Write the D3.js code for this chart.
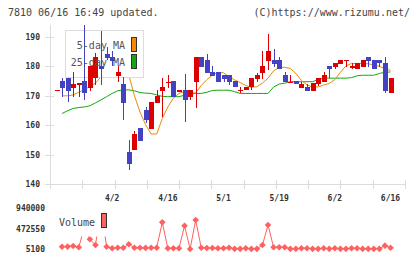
<!DOCTYPE html>
<html>
<head>
<meta charset="utf-8">
<script src="https://cdn.jsdelivr.net/npm/d3@7"></script>
<style>
  body { margin: 0; background: #fff; }
  text { font-family: "DejaVu Sans Mono", monospace; }
</style>
</head>
<body>
<div id="chart"></div>
<script>
// trading days, 3/18 .. 6/16
const dates = ['3/18','3/19','3/21','3/24','3/25','3/26','3/27','3/28','3/31',
  '4/1','4/2','4/3','4/4','4/7','4/8','4/9','4/10','4/11','4/14','4/15','4/16','4/17','4/18',
  '4/21','4/22','4/23','4/24','4/25','4/28','4/30',
  '5/1','5/2','5/7','5/8','5/9','5/12','5/13','5/14','5/15','5/16','5/19','5/20','5/21',
  '5/22','5/23','5/26','5/27','5/28','5/29','5/30',
  '6/2','6/3','6/4','6/5','6/6','6/9','6/10','6/11','6/12','6/13','6/16'];

const opens = [171.9, 175, 176, 172.8, 174.1, 175, 172.8, 176, 180.2, 184.3,
  183.2, 176.8, 174, 151, 151.6, 158.9, 165.2, 158.7, 167.7, 171.7,
  174.5, 175, 171.2, 172, 169.7, 174.8, 183.3, 182.2, 178.2, 178.2,
  177, 177, 175, 172, 172, 172.9, 175.7, 177.9, 182, 182.2,
  182.2, 177, 174.7, 175, 172.8, 173.1, 171.7, 174, 174.8, 180.1,
  179.9, 180.8, 182.1, 180, 179, 179.9, 183.2, 182.2, 182.2, 181.2,
  170.8];
const closes = [172, 172.7, 171.7, 174, 174.2, 170.8, 180.2, 183.3, 179, 183,
  181.8, 178.2, 167.7, 146.8, 156.9, 154.7, 161.8, 168, 169.9, 172.9,
  174.8, 169.7, 172, 168.6, 172, 183.3, 179.9, 177.9, 176.8, 174.8,
  175.7, 174.8, 172.9, 172.1, 173.1, 176, 177, 180.1, 185.2, 180.8,
  179, 174.6, 174.8, 173.9, 174, 171.7, 174.2, 176, 177, 179,
  181.2, 182.2, 182.2, 180.1, 181.2, 182.2, 182, 179, 181, 171.7,
  176];
const highs = [172.1, 176, 176, 178, 174.2, 194, 180.2, 184.5, 192, 186.7,
  185.2, 180, 176.5, 155, 158.1, 158.9, 166.3, 168, 172, 176.2,
  177, 175, 172, 177.3, 172, 183.3, 183.3, 184.2, 180.2, 178.2,
  177, 177, 175, 173.1, 173.1, 176, 177.6, 185.3, 191, 185.9,
  183.1, 178, 177, 175, 174.8, 173.9, 174.2, 176, 178.2, 180.1,
  181.2, 182.2, 182.2, 181.3, 181.2, 182.2, 183.2, 182.2, 182.2, 183.1,
  176];
const lows = [171.9, 169.7, 168, 169.7, 169.7, 168.6, 171.6, 173.7, 173.7, 182.2,
  180.2, 174.8, 161.8, 144.8, 151.6, 154.7, 160.6, 158.7, 167.7, 162.9,
  172.5, 169.7, 171.2, 161.2, 168.6, 166, 179.9, 177.9, 176.8, 174.8,
  174.6, 173.7, 172.9, 170.8, 172, 172, 174.6, 175.7, 178.8, 179.7,
  179, 174.6, 174.2, 173.9, 172.8, 171.7, 171.7, 173.5, 174.8, 176.2,
  179, 180.8, 179.9, 179, 179, 179.9, 179.9, 179, 179.9, 170.8,
  170.8];

const ma5 = [null, 170, 170, 170.3, 171.2, 172.1, 173.2, 174.3, 176.5, 179,
  181, 181.5, 180, 177, 170, 164.5, 160.2, 157, 157, 162.3,
  166.2, 169.2, 170.8, 171.5, 171, 171, 173.5, 175.5, 177, 178,
  177.8, 176.5, 175.4, 174.5, 173.5, 172.9, 173.1, 174.3, 176, 178.5,
  179.6, 179.7, 179.3, 177.6, 175.2, 173.7, 173, 173, 173.7, 174.2,
  175.5, 178, 180.2, 181, 181, 181, 180.9, 180.5, 180, 179.3,
  178.6];
const ma25 = [null, 164, 164.9, 165.7, 166, 166.2, 166.6, 167.6, 168.6, 169.7,
  170.8, 171.7, 172, 172, 171.7, 171.1, 170.9, 170.8, 170.3, 169.8,
  169.7, 169.7, 169.7, 170.2, 170.6, 170.8, 170.8, 171.2, 171.8, 171.9,
  171.9, 171.9, 171.4, 170.8, 170.8, 170.8, 170.8, 170.8, 170.8, 173,
  174, 174.3, 174.8, 174.8, 174.8, 174.8, 174.8, 175.5, 176, 176,
  176, 176, 176, 176.2, 176.8, 177, 177, 177, 177.6, 178,
  178.1];

const volumes = [null, 58000, 60000, 74000, 44000, 500000, 228000, 97000, 940000, 58000,
  21000, 35000, 35000, 113000, 35000, 35000, 30000, 35000, 35000, 618000,
  21000, 21000, 21000, 540000, 5100, 671000, 35000, 28000, 28000, 21000,
  21000, 35000, 8000, 9000, 21000, 7000, 8000, 97000, 556000, 44000,
  44000, 44000, 9000, 8000, 21000, 21000, 8000, 8000, 21000, 8000,
  21000, 8000, 8000, 21000, 21000, 8000, 8000, 8000, 8000, 82000,
  35000];

const priceTicks = [140, 150, 160, 170, 180, 190];
const volTicks = [5100, 472550, 940000];
const dateLabels = ['4/2', '4/16', '5/1', '5/19', '6/2', '6/16'];

const width = 420, height = 259;
const red = '#dd0000', blue = '#4242c2', orange = '#f08a00', green = '#12a812', volColor = '#ff6060';
const axisColor = '#dcdcdc', textColor = '#333';

const svg = d3.select('#chart').append('svg')
  .attr('width', width).attr('height', height);

const x = d3.scalePoint().domain(dates).range([56.5, 390.5]);
const y = d3.scaleLinear().domain([140, 190]).range([184, 37]);
const yv = d3.scaleLinear().domain([5100, 940000]).range([249, 208.3]);
const xt = d3.scaleLinear().domain([0, 11]).range([50, 405]);

// header
svg.append('text').attr('x', 8).attr('y', 16).attr('font-size', 10).attr('fill', '#444')
  .text('7810 06/16 16:49 updated.');
svg.append('text').attr('x', 410).attr('y', 16).attr('font-size', 10).attr('fill', '#444')
  .attr('text-anchor', 'end').text('(C)https://www.rizumu.net/');

// axes
svg.append('line').attr('x1', 50.5).attr('x2', 50.5).attr('y1', 25).attr('y2', 184)
  .attr('stroke', axisColor);
svg.append('line').attr('x1', 50).attr('x2', 405).attr('y1', 184.5).attr('y2', 184.5)
  .attr('stroke', axisColor);

svg.append('g').selectAll('line').data(priceTicks).join('line')
  .attr('x1', 45).attr('x2', 54)
  .attr('y1', d => Math.round(y(d)) + 0.5).attr('y2', d => Math.round(y(d)) + 0.5)
  .attr('stroke', axisColor);
svg.append('g').selectAll('text').data(priceTicks).join('text')
  .attr('x', 40).attr('y', d => y(d) + 3)
  .attr('text-anchor', 'end').attr('font-size', 8).attr('font-weight', 'bold')
  .attr('fill', textColor).text(d => d);

svg.append('g').selectAll('line').data(d3.range(12)).join('line')
  .attr('x1', d => Math.round(xt(d)) + 0.5).attr('x2', d => Math.round(xt(d)) + 0.5)
  .attr('y1', 180).attr('y2', 189)
  .attr('stroke', axisColor);
svg.append('g').selectAll('text').data(dateLabels).join('text')
  .attr('x', d => x(d)).attr('y', 200.5)
  .attr('text-anchor', 'middle').attr('font-size', 8).attr('font-weight', 'bold')
  .attr('fill', textColor).text(d => d);

// moving averages
const idx = d3.range(dates.length);
const maLine = arr => d3.line()
  .defined(i => arr[i] != null)
  .x(i => x(dates[i]))
  .y(i => y(arr[i]));

svg.append('path').datum(idx).attr('d', maLine(ma25))
  .attr('fill', 'none').attr('stroke', green).attr('stroke-width', 1);
svg.append('path').datum(idx).attr('d', maLine(ma5))
  .attr('fill', 'none').attr('stroke', orange).attr('stroke-width', 1);

// legend box (covers MA lines, candles go on top)
svg.append('rect').attr('x', 65.5).attr('y', 30.5).attr('width', 78).attr('height', 47)
  .attr('fill', '#fff').attr('stroke', axisColor);

// candles
const candles = svg.append('g').attr('shape-rendering', 'crispEdges');
idx.forEach(i => {
  const cx = Math.round(x(dates[i]));
  const up = closes[i] >= opens[i];
  const col = up ? red : blue;
  candles.append('line')
    .attr('x1', cx + 0.5).attr('x2', cx + 0.5)
    .attr('y1', y(highs[i])).attr('y2', y(lows[i]))
    .attr('stroke', col);
  const top = y(Math.max(opens[i], closes[i]));
  const h = Math.max(1.5, y(Math.min(opens[i], closes[i])) - top);
  candles.append('rect')
    .attr('x', cx - 2).attr('y', top).attr('width', 5).attr('height', h)
    .attr('fill', col);
});

// legend text
const legend = [['5-day MA', orange, 49, 37], ['25-day MA', green, 66, 54]];
legend.forEach(([label, col, ty, sy]) => {
  svg.append('text').attr('x', 125).attr('y', ty).attr('text-anchor', 'end')
    .attr('font-size', 10).attr('fill', '#555').text(label);
  svg.append('rect').attr('x', 131.5).attr('y', sy + 0.5).attr('width', 5).attr('height', 14)
    .attr('fill', col).attr('stroke', '#333');
});

// volume panel
const volLine = d3.line()
  .defined(i => volumes[i] != null)
  .x(i => x(dates[i]))
  .y(i => yv(volumes[i]));
svg.append('path').datum(idx).attr('d', volLine)
  .attr('fill', 'none').attr('stroke', volColor).attr('stroke-width', 1);

const diamond = {
  draw(ctx, size) {
    const r = Math.sqrt(size / 2);
    ctx.moveTo(0, -r); ctx.lineTo(r, 0); ctx.lineTo(0, r); ctx.lineTo(-r, 0); ctx.closePath();
  }
};
svg.append('g').selectAll('path').data(idx.filter(i => volumes[i] != null)).join('path')
  .attr('transform', i => `translate(${x(dates[i])},${yv(volumes[i])})`)
  .attr('d', d3.symbol().type(diamond).size(22))
  .attr('fill', volColor);

// volume legend box hides what lies under it
svg.append('rect').attr('x', 55).attr('y', 203).attr('width', 56).attr('height', 33.5)
  .attr('fill', '#fff');

svg.append('g').selectAll('text').data(volTicks).join('text')
  .attr('x', 45).attr('y', d => yv(d) + 3)
  .attr('text-anchor', 'end').attr('font-size', 8).attr('font-weight', 'bold')
  .attr('fill', textColor).text(d => d);

svg.append('text').attr('x', 59).attr('y', 225.5).attr('font-size', 10).attr('fill', '#444')
  .text('Volume');
svg.append('rect').attr('x', 101.5).attr('y', 213.5).attr('width', 5).attr('height', 14)
  .attr('fill', volColor).attr('stroke', '#333');
</script>
</body>
</html>
